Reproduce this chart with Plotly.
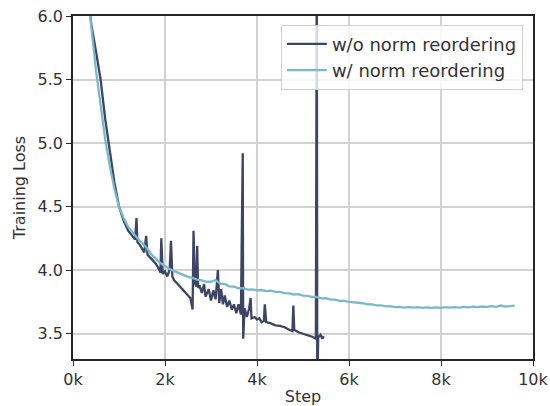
import plotly.graph_objects as go

# ---- data ----
light_steps = [350, 400, 500, 600, 700, 800, 900, 1000, 1100, 1200, 1300, 1400, 1500, 1600, 1700, 1800, 1900,
               2000, 2100, 2200, 2300, 2400, 2500, 2600, 2700, 2800, 2900, 3000, 3100, 3200, 3300, 3400,
               3500, 3600, 3700, 3800, 3900, 4000, 4100, 4200, 4300, 4400, 4500, 4600, 4700, 4800, 4900,
               5000, 5100, 5200, 5300, 5400, 5500, 5600, 5700, 5800, 5900, 6000, 6100, 6200, 6300, 6400,
               6500, 6600, 6700, 6800, 6900, 7000, 7100, 7200, 7300, 7400, 7500, 7600, 7700, 7800, 7900,
               8000, 8100, 8200, 8300, 8400, 8500, 8600, 8700, 8800, 8900, 9000, 9100, 9200, 9300, 9400,
               9500, 9600]
light_loss = [6.08, 5.90, 5.57, 5.30, 5.03, 4.82, 4.64, 4.50, 4.41, 4.34, 4.29, 4.25, 4.215, 4.175, 4.125, 4.09, 4.055,
              4.032, 4.008, 3.992, 3.975, 3.962, 3.946, 3.938, 3.924, 3.918, 3.908, 3.908, 3.922, 3.893, 3.889, 3.872,
              3.870, 3.857, 3.858, 3.846, 3.848, 3.840, 3.843, 3.834, 3.838, 3.828, 3.829, 3.819, 3.817, 3.808, 3.810,
              3.799, 3.797, 3.788, 3.789, 3.778, 3.779, 3.768, 3.768, 3.758, 3.757, 3.749, 3.746, 3.740, 3.739, 3.731,
              3.730, 3.722, 3.722, 3.714, 3.716, 3.708, 3.711, 3.705, 3.709, 3.704, 3.708, 3.703, 3.707, 3.702, 3.706,
              3.703, 3.708, 3.704, 3.709, 3.705, 3.710, 3.706, 3.712, 3.708, 3.713, 3.710, 3.716, 3.711, 3.721, 3.712,
              3.718, 3.720]

dark_steps = [350, 400, 500, 600, 700, 800, 900, 1000, 1100, 1200, 1300, 1350, 1380, 1400, 1450, 1500, 1550, 1590,
              1620, 1700, 1800, 1850, 1900, 1920, 1950, 2000, 2050, 2100, 2130, 2160, 2200, 2300, 2400, 2500,
              2550, 2600, 2620, 2650, 2680, 2700, 2720, 2750, 2800, 2850, 2880, 2950, 3000, 3050, 3100, 3150,
              3180, 3220, 3260, 3300, 3350, 3400, 3450, 3500, 3550, 3600, 3650, 3690, 3700, 3730, 3780, 3830,
              3860, 3880, 3950, 4000, 4050, 4100, 4150, 4170, 4200, 4300, 4400, 4500, 4600, 4700, 4770, 4790,
              4810, 4900, 5000, 5100, 5200, 5280, 5300, 5310, 5330, 5380, 5420, 5450]
dark_loss = [6.08, 5.93, 5.72, 5.50, 5.19, 4.94, 4.69, 4.50, 4.39, 4.31, 4.26, 4.24, 4.41, 4.22, 4.20, 4.17, 4.14, 4.27,
             4.12, 4.09, 4.05, 4.02, 3.98, 4.25, 3.97, 3.99, 3.95, 4.00, 4.23, 3.95, 3.92, 3.88, 3.84, 3.80,
             3.78, 3.69, 4.31, 3.90, 3.87, 4.19, 3.86, 3.88, 3.82, 3.89, 3.79, 3.85, 3.76, 3.84, 3.77, 4.00,
             3.74, 3.85, 3.73, 3.80, 3.71, 3.76, 3.69, 3.73, 3.66, 3.73, 3.65, 4.92, 3.46, 3.70, 3.63, 3.70,
             3.78, 3.62, 3.63, 3.61, 3.62, 3.59, 3.60, 3.73, 3.59, 3.58, 3.565, 3.56, 3.55, 3.53, 3.52, 3.72,
             3.53, 3.51, 3.50, 3.49, 3.475, 3.46, 6.6, 3.0, 3.47, 3.49, 3.46, 3.48]

x_tick_vals = [0, 2000, 4000, 6000, 8000, 10000]
x_tick_text = ["0k", "2k", "4k", "6k", "8k", "10k"]
y_tick_vals = [3.5, 4.0, 4.5, 5.0, 5.5, 6.0]

dark_color = "#3c4565"
light_color = "#7bb8cc"

fig = go.Figure()
fig.add_trace(go.Scatter(x=dark_steps, y=dark_loss, mode="lines", name="w/o norm reordering",
                         line=dict(color=dark_color, width=2.3)))
fig.add_trace(go.Scatter(x=light_steps, y=light_loss, mode="lines", name="w/ norm reordering",
                         line=dict(color=light_color, width=2.3)))

axis_common = dict(showline=True, mirror=True, linecolor="#262626", linewidth=1.5,
                   showgrid=True, gridcolor="#d2d2d2", gridwidth=1.5, automargin=False,
                   ticklabeloverflow="allow",
                   ticks="outside", ticklen=5, tickwidth=1.2, tickcolor="#262626",
                   zeroline=False, tickfont=dict(size=16, color="#333333"))

fig.update_xaxes(range=[0, 10000], tickvals=x_tick_vals, ticktext=x_tick_text,
                 title=dict(text="Step", font=dict(size=16, color="#333333"), standoff=3), **axis_common)
fig.update_yaxes(range=[3.3, 6.0], tickvals=y_tick_vals, tickformat=".1f",
                 title=dict(text="Training Loss", font=dict(size=16, color="#333333"), standoff=8), **axis_common)

fig.update_layout(
    width=550, height=406,
    margin=dict(l=73, r=17, t=16, b=47),
    plot_bgcolor="white", paper_bgcolor="white",
    font=dict(family="DejaVu Sans", color="#333333"),
    showlegend=True,
    legend=dict(x=0.978, y=0.975, xanchor="right", yanchor="top",
                bgcolor="rgba(255,255,255,0.8)", bordercolor="#d0d0d0", borderwidth=1,
                font=dict(size=18, color="#333333"), tracegroupgap=0, itemwidth=40),
)

# remove the browser's default 8px page margin so the figure fills the window
fig.write_html("out.html", config={"displayModeBar": False},
               post_script="document.body.style.margin='0';")
